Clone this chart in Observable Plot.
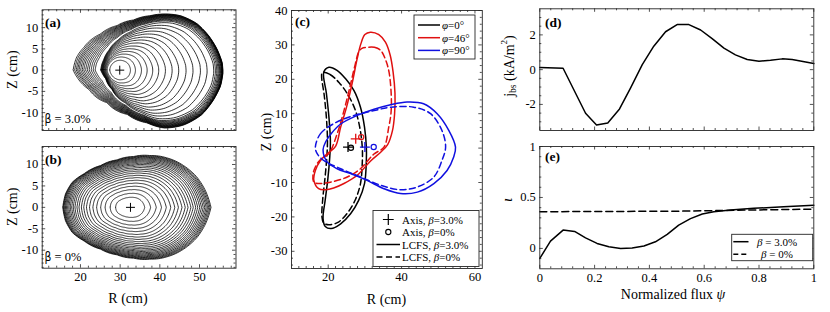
<!DOCTYPE html>
<html><head><meta charset="utf-8">
<script src="https://cdn.jsdelivr.net/npm/d3@7"></script>
<script src="https://cdn.jsdelivr.net/npm/@observablehq/plot@0.6"></script>
<style>
html,body{margin:0;padding:0;background:#fff;}
#fig{position:relative;width:830px;height:312px;overflow:hidden;}
#fig svg{max-width:none !important;overflow:visible;}
#fig svg text{font-family:"Liberation Serif","DejaVu Serif",serif !important;font-stretch:condensed;}
#fig svg text .sans{font-family:"DejaVu Sans",sans-serif !important;}
</style></head><body><div id="fig"></div>
<script>
// ---------- (a) beta = 3.0% : last closed flux surface (cm) ----------
const aBoundR = [18.16,19.0,20.84,25.04,29.2,33.4,37.6,41.4,45.2,49.4,52.3,54.4,55.7,55.9,55.3,53.6,50.65,46.0,41.0,36.8,31.8,26.7,22.1,19.2];
const aBoundZ = [0,2.98,5.35,8.5,10.47,11.8,12.8,13.2,12.8,10.9,8.1,4.96,1.8,-0.57,-3.7,-6.86,-10.4,-12.9,-13.6,-12.4,-10.4,-7.66,-4.5,-1.75];
const aAxis = [29.9, 0];
// midplane crossings of the nested flux surfaces (cm)
const aRightCross = [32.59,33.85,35.37,36.80,38.21,39.72,41.41,43.10,44.76,46.61,48.36,50.23,51.91,53.58,54.0,54.35,54.65,54.9,55.1,55.27,55.42,55.55,55.65,55.73,55.79,55.84,55.88,55.9];
const aLeftCross  = [27.38,26.7,26.45,26.25,26.1,25.95,25.8,25.7,25.6,25.5,25.4,25.3,25.2,25.1,23.7,23.2,22.7,22.2,21.75,21.3,20.85,20.45,20.05,19.65,19.3,18.95,18.55,18.16];

// ---------- (b) beta = 0% ----------
const bBoundR = [15.54,16.22,17.9,20.84,25.04,29.2,33.4,37.6,41.8,46.0,49.4,51.5,52.9,51.5,49.4,46.0,41.8,37.6,33.4,29.2,25.04,20.84,17.9,16.22];
const bBoundZ = [0,3.13,5.84,7.8,9.74,11.07,11.85,12.08,11.54,9.74,7.0,3.9,0,-3.9,-7.0,-9.74,-11.54,-12.08,-11.85,-11.07,-9.74,-7.8,-5.84,-3.13];
const bAxis = [32.6, 0];
const bRightCross = [36.19,37.68,39.1,40.42,41.63,42.75,43.77,44.68,45.59,46.4,47.11,47.83,48.43,49.04,49.55,50.06,50.5,50.93,51.32,51.68,52.01,52.31,52.62,52.9];
const bLeftCross  = [28.85,27.48,26.2,25.09,24.07,23.13,22.28,21.51,20.83,20.23,19.63,19.12,18.61,18.18,17.79,17.42,17.08,16.77,16.48,16.22,16.0,15.81,15.66,15.54];

// ---------- (c) LCFS cross-sections (cm) ----------
const c0SolidR = [20.2,22.4,24.7,27.0,28.8,29.9,30.4,30.4,29.9,28.3,26.1,23.4,20.8,19.2,18.6,19.2,19.9,20.4,20.6,20.2,19.5,18.8];
const c0SolidZ = [23.5,22.6,20.2,16.8,11.9,6.1,0.3,-3.6,-10.3,-15.2,-19.1,-22.0,-23.4,-22.8,-20.5,-15.0,-9.0,-3.0,2.0,9.0,16.0,22.1];
const c0DashR = [18.4,20.5,23.0,25.4,27.4,28.7,29.3,29.3,28.8,27.4,25.3,22.8,20.2,18.8,18.3,18.5,19.1,19.6,19.8,19.5,18.9,18.2];
const c0DashZ = [22.0,21.4,19.0,15.5,11.0,5.5,0.0,-4.0,-10.3,-15.0,-18.8,-21.5,-22.3,-21.8,-20.0,-15.0,-9.0,-3.0,2.0,9.0,15.5,21.0];
const c46SolidR = [31.5,33.8,35.6,36.9,37.7,38.2,38.1,37.5,36.2,34.3,31.5,27.9,24.3,21.5,19.3,17.4,16.1,16.5,17.9,19.9,22.0,23.4,25.0,26.5,27.9,28.9,30.0];
const c46SolidZ = [33.7,33.0,30.8,27.0,22.0,16.0,10.0,5.0,1.0,-1.2,-3.8,-7.9,-10.3,-11.6,-12.1,-11.8,-9.4,-6.5,-3.6,-1.5,0.5,6.1,11.9,18.7,26.0,30.3,33.0];
const c46DashR = [30.6,32.6,34.3,35.7,36.6,37.2,37.1,36.5,35.2,32.4,28.8,25.2,20.6,17.4,16.1,15.9,17.0,18.5,20.2,22.45,24.3,25.9,27.4,28.3,29.2];
const c46DashZ = [29.3,29.3,28.4,25.5,22.0,15.0,10.0,6.1,0.3,-1.8,-6.0,-8.4,-9.9,-10.3,-9.9,-7.4,-4.5,-2.8,-1.6,4.2,10.9,17.7,24.5,27.9,29.0];
const c90SolidR = [18.6,19.4,20.8,23.4,27.9,32.5,37.0,41.5,46.0,49.7,52.9,54.7,54.2,52.4,48.8,44.3,39.7,35.2,30.6,26.1,22.45,19.7];
const c90SolidZ = [-0.5,2.0,4.2,7.0,9.5,11.3,12.6,13.4,12.9,10.0,5.1,0.3,-2.6,-6.5,-10.3,-12.8,-13.2,-11.8,-9.4,-7.4,-6.0,-4.0];
const c90DashR = [16.5,17.9,21.5,26.5,32.5,37.0,43.3,47.9,51.0,52.0,51.0,48.8,44.3,39.7,34.3,28.8,23.4,18.8,17.0];
const c90DashZ = [0.3,4.2,7.1,9.3,10.9,11.9,11.9,10.0,5.1,0.3,-3.6,-8.4,-11.3,-12.1,-10.8,-8.4,-6.0,-3.6,-1.6];
const phiLabels = ["0", "46", "90"];
const phiColors = ["#000000", "#e01010", "#1010e0"];
const axis3R = [25.4, 27.5, 30.0], axis3Z = [0.3, 2.7, 0.3];   // magnetic axis, beta=3.0%
const axis0R = [26.2, 29.0, 32.4], axis0Z = [0.1, 3.2, 0.3];   // magnetic axis, beta=0%

// ---------- (d) bootstrap current ----------
const jbsPsi = [0,0.085,0.167,0.207,0.248,0.291,0.331,0.374,0.416,0.459,0.501,0.544,0.587,0.629,0.672,0.714,0.757,0.8,0.842,0.885,0.921,1.0];
const jbs    = [0.12,0.08,-2.51,-3.19,-3.07,-2.26,-1.06,0.29,1.35,2.18,2.59,2.59,2.28,1.78,1.24,0.85,0.58,0.48,0.54,0.62,0.58,0.35];

// ---------- (e) rotational transform ----------
const iotaPsi3 = [0,0.039,0.085,0.127,0.167,0.209,0.252,0.295,0.337,0.38,0.422,0.465,0.507,0.55,0.593,0.635,0.696,0.781,0.89,1.0];
const iota3    = [-0.098,0.072,0.18,0.167,0.104,0.049,0.016,0.0,0.003,0.023,0.065,0.137,0.229,0.292,0.338,0.36,0.377,0.393,0.41,0.423];
const iotaPsi0 = [0,0.5,0.8,1.0];
const iota0    = [0.36,0.365,0.378,0.385];

// ---------- tick labels ----------
const abTicksZ = [-10,-5,0,5,10];
const abTicksR = [20,30,40,50];
const cTicksZ = [-30,-20,-10,0,10,20,30,40];
const cTicksR = [20,40,60];
const dTicks = [-2,0,2];
const eTicksY = [0,0.5,1];
const psiTicks = [0,0.2,0.4,0.6,0.8,1];

// ================= helpers =================
const SERIF = '"Liberation Serif","DejaVu Serif",serif';
const INK = "#262626";
const fmt = d => String(d);
const fig = d3.select("#fig");
const STYLE = {fontFamily: SERIF, fontSize: "12.5px", color: "#000", background: "transparent"};

function minor(lo, hi, step, majors) {
  const out = [];
  for (let k = Math.ceil(lo / step - 1e-9); k * step <= hi + 1e-9; k++) {
    const v = +(k * step).toFixed(6);
    if (v <= lo + 1e-9 || v >= hi - 1e-9) continue;
    if (majors.some(m => Math.abs(m - v) < 1e-9)) continue;
    out.push(v);
  }
  return out;
}
function boxTicks(xMaj, xMin, yMaj, yMin, fw, fh) {
  const L = 3.5, l = 2, s = {stroke: INK, strokeWidth: 0.8};
  return [
    Plot.tickX(xMaj, {x: d => d, ...s, insetTop: fh - L}),
    Plot.tickX(xMaj, {x: d => d, ...s, insetBottom: fh - L}),
    Plot.tickX(xMin, {x: d => d, ...s, insetTop: fh - l}),
    Plot.tickX(xMin, {x: d => d, ...s, insetBottom: fh - l}),
    Plot.tickY(yMaj, {y: d => d, ...s, insetRight: fw - L}),
    Plot.tickY(yMaj, {y: d => d, ...s, insetLeft: fw - L}),
    Plot.tickY(yMin, {y: d => d, ...s, insetRight: fw - l}),
    Plot.tickY(yMin, {y: d => d, ...s, insetLeft: fw - l}),
    Plot.frame({stroke: INK, strokeWidth: 0.9})
  ];
}
function place(svg, left, top, w, h) {
  const div = fig.append("div").style("position", "absolute").style("left", left + "px").style("top", top + "px")
    .style("width", w + "px").style("height", h + "px");
  div.node().appendChild(svg);
}
function txt(svg, x, y, parts, o = {}) {
  const t = d3.select(svg).append("text")
    .attr("font-size", o.size || 13)
    .attr("text-anchor", o.anchor || "start").attr("fill", "#000")
    .attr("font-weight", o.weight || "normal");
  if (o.rotate) t.attr("transform", `translate(${x},${y}) rotate(${o.rotate})`).attr("dominant-baseline", "central");
  else t.attr("x", x).attr("y", y);
  for (const p of parts) {
    if (typeof p === "string") { t.append("tspan").text(p); continue; }
    const s = t.append("tspan").text(p.t);
    if (p.i) s.attr("font-style", "italic");
    if (p.dy) s.attr("dy", p.dy);
    if (p.size) s.attr("font-size", p.size);
    if (p.sans) s.attr("class", "sans");
  }
  return t;
}
function toPts(R, Z) { return R.map((r, i) => ({R: r, Z: Z[i]})); }

// nested flux surfaces built from the read LCFS and the read midplane crossings
function surfaces(bR, bZ, ax, leftX, rightX, circular) {
  const [aR, aZ] = ax;
  const pts = bR.map((r, i) => ({t: Math.atan2(bZ[i] - aZ, r - aR), rho: Math.hypot(r - aR, bZ[i] - aZ)}))
    .sort((a, b) => a.t - b.t);
  const n = pts.length;
  function rhoB(t) {
    for (let j = 0; j < n; j++) {
      const p = pts[j], q = pts[(j + 1) % n];
      const t0 = p.t; let t1 = q.t; if (j === n - 1) t1 += 2 * Math.PI;
      let tt = t; if (tt < t0) tt += 2 * Math.PI;
      if (tt >= t0 && tt <= t1) { const u = (tt - t0) / (t1 - t0); return p.rho + u * (q.rho - p.rho); }
    }
    return pts[0].rho;
  }
  const rb0 = rhoB(0), rbPi = rhoB(Math.PI);
  const K = 200, ns = leftX.length;
  const rho = leftX.map((L, i) => {
    const rR = rightX[i] - aR, rL = aR - L;
    const fR = rR / rb0, fL = rL / rbPi;
    const w = circular ? Math.min(1, Math.sqrt(fR)) : 1;
    const arr = [];
    for (let k = 0; k < K; k++) {
      const t = -Math.PI + k * 2 * Math.PI / K, c = Math.cos(t);
      const sc = (fR * (1 + c) / 2 + fL * (1 - c) / 2) * rhoB(t);
      const ci = rR * (1 + c) / 2 + rL * (1 - c) / 2;
      arr.push((1 - w) * ci + w * sc);
    }
    return arr;
  });
  for (let k = 0; k < K; k++)
    for (let i = ns - 2; i >= 0; i--) rho[i][k] = Math.min(rho[i][k], rho[i + 1][k] - 0.05);
  const out = [];
  rho.forEach((arr, i) => arr.forEach((r, k) => {
    const t = -Math.PI + k * 2 * Math.PI / K;
    out.push({s: i, R: aR + r * Math.cos(t), Z: aZ + r * Math.sin(t)});
  }));
  return out;
}

// ================= panel (a) & (b) =================
function fluxPanel(which) {
  const isA = which === "a";
  const W = 245, H = isA ? 140 : 172;
  const m = isA ? {l: 41.7, r: 9.5, t: 9.3, b: 10} : {l: 41.7, r: 9.5, t: 6, b: 44.3};
  const fw = W - m.l - m.r, fh = H - m.t - m.b;
  const xd = [10.35, 59.2], yd = [-14.2, 14.2];
  const surf = isA ? surfaces(aBoundR, aBoundZ, aAxis, aLeftCross, aRightCross, true)
                   : surfaces(bBoundR, bBoundZ, bAxis, bLeftCross, bRightCross, false);
  const ax = isA ? aAxis : bAxis;
  const svg = Plot.plot({
    width: W, height: H, marginLeft: m.l, marginRight: m.r, marginTop: m.t, marginBottom: m.b,
    style: STYLE,
    x: isA ? {domain: xd, axis: null} : {domain: xd, ticks: abTicksR, tickSize: 0, tickPadding: 4, tickFormat: fmt, label: null},
    y: {domain: yd, ticks: abTicksZ, tickSize: 0, tickPadding: 4, tickFormat: fmt, label: null},
    marks: [
      Plot.line(surf, {x: "R", y: "Z", z: "s", curve: "linear-closed", stroke: "#000", strokeWidth: 0.8}),
      Plot.dot([{R: ax[0], Z: ax[1]}], {x: "R", y: "Z", symbol: "plus", r: 3.0, stroke: "#000", strokeWidth: 1}),
      ...boxTicks(abTicksR, minor(xd[0], xd[1], 2, abTicksR), abTicksZ, minor(yd[0], yd[1], 1, abTicksZ), fw, fh)
    ]
  });
  place(svg, 0, isA ? 0 : 140, W, H);
  txt(svg, 11.7, m.t + fh / 2, ["Z (cm)"], {size: 14, anchor: "middle", rotate: -90});
  txt(svg, 45, m.t + 17.5, [isA ? "(a)" : "(b)"], {size: 13.5, weight: "bold"});
  txt(svg, 44.5, m.t + fh - 7, [{t: "β", sans: true, size: 12}, isA ? " = 3.0%" : " = 0%"], {size: 12.5});
  if (!isA) txt(svg, 128, 163, ["R (cm)"], {size: 14, anchor: "middle"});
}
fluxPanel("a");
fluxPanel("b");

// ================= panel (c) =================
(function () {
  const W = 240, H = 312, m = {l: 41, r: 8.2, t: 10, b: 44};
  const fw = W - m.l - m.r, fh = H - m.t - m.b;
  const xd = [10, 62], yd = [-35, 40];
  const solids = [toPts(c0SolidR, c0SolidZ), toPts(c46SolidR, c46SolidZ), toPts(c90SolidR, c90SolidZ)];
  const dashes = [toPts(c0DashR, c0DashZ), toPts(c46DashR, c46DashZ), toPts(c90DashR, c90DashZ)];
  const marks = [];
  [0, 1, 2].forEach(k => {
    marks.push(Plot.line(dashes[k], {x: "R", y: "Z", curve: "catmull-rom-closed", stroke: phiColors[k], strokeWidth: 1.5, strokeDasharray: "6,3.5"}));
    marks.push(Plot.line(solids[k], {x: "R", y: "Z", curve: "catmull-rom-closed", stroke: phiColors[k], strokeWidth: 1.5}));
  });
  const ax3 = axis3R.map((r, i) => ({R: r, Z: axis3Z[i], k: i}));
  const ax0 = axis0R.map((r, i) => ({R: r, Z: axis0Z[i], k: i}));
  marks.push(Plot.dot(ax3, {x: "R", y: "Z", symbol: "plus", r: 3.3, stroke: d => phiColors[d.k], strokeWidth: 1.3}));
  marks.push(Plot.dot(ax0, {x: "R", y: "Z", symbol: "circle", r: 2.6, stroke: d => phiColors[d.k], strokeWidth: 1.2, fill: "none"}));
  const svg = Plot.plot({
    width: W, height: H, marginLeft: m.l, marginRight: m.r, marginTop: m.t, marginBottom: m.b,
    style: STYLE,
    color: {type: "identity"},
    x: {domain: xd, ticks: cTicksR, tickSize: 0, tickPadding: 4, tickFormat: fmt, label: null},
    y: {domain: yd, ticks: cTicksZ, tickSize: 0, tickPadding: 4, tickFormat: fmt, label: null},
    marks: [...marks, ...boxTicks(cTicksR, minor(xd[0], xd[1], 2, cTicksR), cTicksZ, minor(yd[0], yd[1], 2, cTicksZ), fw, fh)]
  });
  place(svg, 250, 0, W, H);
  const g = d3.select(svg);
  txt(svg, 16, m.t + fh / 2 - 7, ["Z (cm)"], {size: 14, anchor: "middle", rotate: -90});
  txt(svg, 136.5, 304, ["R (cm)"], {size: 14, anchor: "middle"});
  txt(svg, 45, 26, ["(c)"], {size: 13.5, weight: "bold"});
  // legend: toroidal angles
  g.append("rect").attr("x", 164).attr("y", 15).attr("width", 61).attr("height", 44).attr("fill", "#fff").attr("stroke", INK).attr("stroke-width", 0.9);
  phiLabels.forEach((p, k) => {
    const y = 25 + k * 12.7;
    g.append("line").attr("x1", 168).attr("x2", 190).attr("y1", y).attr("y2", y).attr("stroke", phiColors[k]).attr("stroke-width", 1.5);
    txt(svg, 192, y + 4, [{t: "φ", i: true}, "=" + p + "°"], {size: 11});
  });
  // legend: axis & LCFS
  g.append("rect").attr("x", 123).attr("y", 210.5).attr("width", 106).attr("height", 56).attr("fill", "#fff").attr("stroke", INK).attr("stroke-width", 0.9);
  const rows = [219.5, 232, 244.5, 257];
  g.append("path").attr("transform", `translate(138.3,${rows[0]})`).attr("d", d3.symbol(d3.symbolPlus, 40)()).attr("fill", "none").attr("stroke", "#000").attr("stroke-width", 1.2);
  g.append("circle").attr("cx", 138.3).attr("cy", rows[1]).attr("r", 2.6).attr("fill", "none").attr("stroke", "#000").attr("stroke-width", 1.1);
  g.append("line").attr("x1", 126.5).attr("x2", 150).attr("y1", rows[2]).attr("y2", rows[2]).attr("stroke", "#000").attr("stroke-width", 1.5);
  g.append("line").attr("x1", 126.5).attr("x2", 150).attr("y1", rows[3]).attr("y2", rows[3]).attr("stroke", "#000").attr("stroke-width", 1.5).attr("stroke-dasharray", "6,3.5");
  const lt = [["Axis, ", "3.0%"], ["Axis, ", "0%"], ["LCFS, ", "3.0%"], ["LCFS, ", "0%"]];
  lt.forEach((t, i) => txt(svg, 152, rows[i] + 4, [t[0], {t: "β", i: true}, "=" + t[1]], {size: 11}));
})();

// ================= panel (d) =================
(function () {
  const W = 335, H = 140, m = {l: 44.3, r: 16.7, t: 8.3, b: 10};
  const fw = W - m.l - m.r, fh = H - m.t - m.b;
  const yd = [-3.5, 3.5];
  const svg = Plot.plot({
    width: W, height: H, marginLeft: m.l, marginRight: m.r, marginTop: m.t, marginBottom: m.b,
    style: STYLE,
    x: {domain: [0, 1], axis: null},
    y: {domain: yd, ticks: dTicks, tickSize: 0, tickPadding: 4, tickFormat: fmt, label: null},
    marks: [
      Plot.line(jbsPsi.map((p, i) => ({p, v: jbs[i]})), {x: "p", y: "v", stroke: "#000", strokeWidth: 1.5}),
      ...boxTicks(psiTicks, minor(0, 1, 0.04, psiTicks), dTicks, minor(yd[0], yd[1], 0.5, dTicks), fw, fh)
    ]
  });
  place(svg, 495, 0, W, H);
  txt(svg, 14, 66, ["j", {t: "bs", size: 9.5, dy: 3.5}, {t: " (kA/m", dy: -3.5}, {t: "2", size: 9, dy: -5}, {t: ")", dy: 5}], {size: 14, anchor: "middle", rotate: -90});
  txt(svg, 50, 27, ["(d)"], {size: 13.5, weight: "bold"});
})();

// ================= panel (e) =================
(function () {
  const W = 335, H = 172, m = {l: 44.3, r: 16.7, t: 6, b: 43.7};
  const fw = W - m.l - m.r, fh = H - m.t - m.b;
  const yd = [-0.2, 1];
  const svg = Plot.plot({
    width: W, height: H, marginLeft: m.l, marginRight: m.r, marginTop: m.t, marginBottom: m.b,
    style: STYLE,
    x: {domain: [0, 1], ticks: psiTicks, tickSize: 0, tickPadding: 4, tickFormat: fmt, label: null},
    y: {domain: yd, ticks: eTicksY, tickSize: 0, tickPadding: 4, tickFormat: fmt, label: null},
    marks: [
      Plot.line(iotaPsi0.map((p, i) => ({p, v: iota0[i]})), {x: "p", y: "v", stroke: "#000", strokeWidth: 1.5, strokeDasharray: "7,4"}),
      Plot.line(iotaPsi3.map((p, i) => ({p, v: iota3[i]})), {x: "p", y: "v", stroke: "#000", strokeWidth: 1.5}),
      ...boxTicks(psiTicks, minor(0, 1, 0.04, psiTicks), eTicksY, minor(yd[0], yd[1], 0.1, eTicksY), fw, fh)
    ]
  });
  place(svg, 495, 140, W, H);
  const g = d3.select(svg);
  txt(svg, 12, 60, [{t: "ι", i: true}], {size: 15, anchor: "middle", rotate: -90});
  txt(svg, 178, 159, ["Normalized flux ", {t: "ψ", i: true}], {size: 14, anchor: "middle"});
  txt(svg, 50, 21, ["(e)"], {size: 13.5, weight: "bold"});
  g.append("rect").attr("x", 236.7).attr("y", 94.3).attr("width", 81).attr("height", 26.4).attr("fill", "#fff").attr("stroke", INK).attr("stroke-width", 0.9);
  g.append("line").attr("x1", 238.3).attr("x2", 253.5).attr("y1", 101.7).attr("y2", 101.7).attr("stroke", "#000").attr("stroke-width", 1.5);
  g.append("line").attr("x1", 238.3).attr("x2", 253.5).attr("y1", 114.3).attr("y2", 114.3).attr("stroke", "#000").attr("stroke-width", 1.5).attr("stroke-dasharray", "5,3");
  txt(svg, 282, 105.7, [{t: "β", i: true}, " = 3.0%"], {size: 11, anchor: "middle"});
  txt(svg, 282, 118.3, [{t: "β", i: true}, " = 0%"], {size: 11, anchor: "middle"});
})();
</script></body></html>
